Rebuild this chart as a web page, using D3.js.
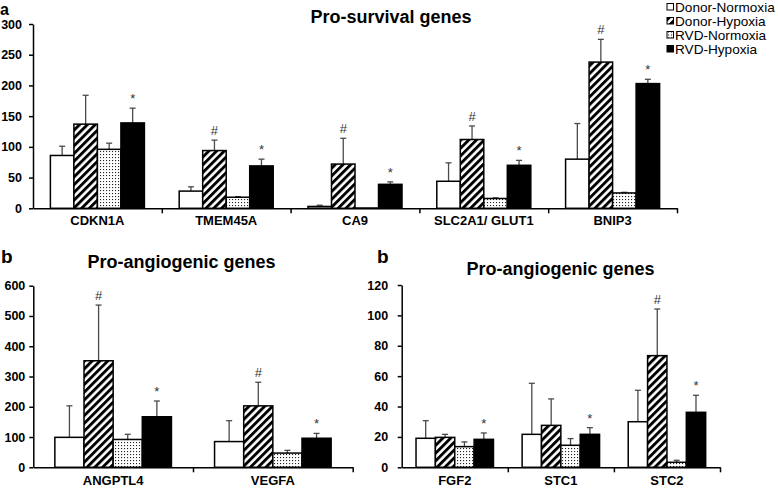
<!DOCTYPE html>
<html>
<head>
<meta charset="utf-8">
<script src="https://cdn.jsdelivr.net/npm/d3@7"></script>
<style>
  body { margin: 0; background: #fff; }
  svg { font-family: "Liberation Sans", Arial, sans-serif; }
</style>
</head>
<body>
<svg id="chart" width="778" height="489"></svg>
<script>
// groups and panel data
const seriesNames = ["Donor-Normoxia", "Donor-Hypoxia", "RVD-Normoxia", "RVD-Hypoxia"];

const survivalGenes = ["CDKN1A", "TMEM45A", "CA9", "SLC2A1/ GLUT1", "BNIP3"];
const survivalMeans = [[86, 137, 96, 139], [28, 94, 18, 69], [3, 72, 0.5, 39], [44, 112, 16, 70], [80, 238, 25, 203]];
const survivalSD = [[15, 47, 10, 24], [7, 17, 1, 11], [2, 42, 0, 4], [30, 22, 1, 8], [58, 37, 1, 7]];
const survivalMarks = [["", "", "", "*"], ["", "#", "", "*"], ["", "#", "", "*"], ["", "#", "", "*"], ["", "#", "", "*"]];

const angioGenesA = ["ANGPTL4", "VEGFA"];
const angioMeansA = [[99, 352, 92, 167], [85, 203, 47, 96]];
const angioSDA = [[104, 184, 17, 52], [69, 78, 9, 16]];
const angioMarksA = [["", "#", "", "*"], ["", "#", "", "*"]];

const angioGenesB = ["FGF2", "STC1", "STC2"];
const angioMeansB = [[19.1, 19.7, 13.6, 18.4], [21.7, 27.6, 14.5, 21.7], [30, 73.5, 3.3, 36.2]];
const angioSDB = [[11.6, 2, 3.1, 4.2], [33.6, 17.4, 4.4, 4.4], [20.7, 30.7, 1.3, 11.2]];
const angioMarksB = [["", "", "", "*"], ["", "", "", "*"], ["", "#", "", "*"]];

const svg = d3.select("#chart");
const defs = svg.append("defs");

// diagonal stripes for Donor-Hypoxia
const stripe = defs.append("pattern")
  .attr("id", "stripes")
  .attr("patternUnits", "userSpaceOnUse")
  .attr("width", 5.5).attr("height", 5.5)
  .attr("patternTransform", "rotate(45)");
stripe.append("rect").attr("width", 5.5).attr("height", 5.5).attr("fill", "#fff");
stripe.append("rect").attr("width", 2.9).attr("height", 5.5).attr("fill", "#000");

// fine dots for RVD-Normoxia
const dots = defs.append("pattern")
  .attr("id", "dots")
  .attr("patternUnits", "userSpaceOnUse")
  .attr("width", 3).attr("height", 3);
dots.append("rect").attr("width", 3).attr("height", 3).attr("fill", "#fff");
dots.append("rect").attr("x", 1).attr("y", 1).attr("width", 1.1).attr("height", 1.1).attr("fill", "#222");

const fills = ["#fff", "url(#stripes)", "url(#dots)", "#000"];

function drawPanel(cfg) {
  const g = svg.append("g");
  const n = cfg.genes.length;

  const x = d3.scaleBand().domain(cfg.genes).range([cfg.x0, cfg.x1]).paddingInner(0.27).paddingOuter(0.135);
  const xs = d3.scaleBand().domain(seriesNames).range([0, x.bandwidth()]);
  const y = d3.scaleLinear().domain([0, cfg.max]).range([cfg.y0, cfg.y1]);

  // y axis
  const yAxis = g.append("g")
    .attr("transform", "translate(" + cfg.x0 + ",0)")
    .call(d3.axisLeft(y).tickValues(d3.range(0, cfg.max + cfg.step / 2, cfg.step))
      .tickSize(4).tickSizeOuter(0).tickPadding(cfg.pad));
  yAxis.selectAll("text").attr("font-size", "12.5px").attr("font-weight", "bold").attr("fill", "#000")
    .attr("font-family", "Liberation Sans, Arial, sans-serif");
  yAxis.selectAll("line, path").attr("stroke", "#000").attr("stroke-width", 1.5);

  // x axis: boundary ticks
  const xb = d3.scaleLinear().domain([0, n]).range([cfg.x0, cfg.x1]);
  const xAxis = g.append("g")
    .attr("transform", "translate(0," + cfg.y0 + ")")
    .call(d3.axisBottom(xb).tickValues(d3.range(1, n + 1)).tickFormat("").tickSize(5).tickSizeOuter(0));
  xAxis.selectAll("line, path").attr("stroke", "#000").attr("stroke-width", 1.5);

  // category labels
  const xl = g.append("g")
    .attr("transform", "translate(0," + cfg.y0 + ")")
    .call(d3.axisBottom(x).tickSize(0).tickPadding(cfg.labPad));
  xl.select(".domain").remove();
  xl.selectAll("text").attr("font-size", "13px").attr("font-weight", "bold").attr("fill", "#000")
    .attr("font-family", "Liberation Sans, Arial, sans-serif");

  const rows = [];
  cfg.genes.forEach(function(gene, i) {
    seriesNames.forEach(function(s, j) {
      rows.push({gene: gene, s: s, j: j, v: cfg.means[i][j], sd: cfg.sd[i][j], mark: cfg.marks[i][j]});
    });
  });

  const bx = function(d) { return x(d.gene) + xs(d.s); };

  // error bars (upper only)
  const eb = g.selectAll(".err").data(rows.filter(d => d.sd > 0)).enter().append("g")
    .attr("stroke", "#4a4a4a").attr("stroke-width", 1.3);
  eb.append("line")
    .attr("x1", d => bx(d) + xs.bandwidth() / 2).attr("x2", d => bx(d) + xs.bandwidth() / 2)
    .attr("y1", d => y(d.v)).attr("y2", d => y(d.v + d.sd));
  eb.append("line")
    .attr("x1", d => bx(d) + xs.bandwidth() / 2 - 3).attr("x2", d => bx(d) + xs.bandwidth() / 2 + 3)
    .attr("y1", d => y(d.v + d.sd)).attr("y2", d => y(d.v + d.sd));

  // bars
  g.selectAll(".bar").data(rows).enter().append("rect")
    .attr("x", bx)
    .attr("y", d => y(d.v))
    .attr("width", xs.bandwidth())
    .attr("height", d => cfg.y0 - y(d.v))
    .attr("fill", d => fills[d.j])
    .attr("stroke", "#000")
    .attr("stroke-width", 1.5);

  // significance marks
  g.selectAll(".mark").data(rows.filter(d => d.mark)).enter().append("text")
    .attr("x", d => bx(d) + xs.bandwidth() / 2)
    .attr("y", d => y(d.v + d.sd) - 5)
    .attr("text-anchor", "middle")
    .attr("font-size", "13px")
    .attr("fill", "#333")
    .text(d => d.mark);

  // title
  g.append("text")
    .attr("x", cfg.tx).attr("y", cfg.ty)
    .attr("text-anchor", "middle")
    .attr("font-size", "18px").attr("font-weight", "bold")
    .text(cfg.title);
}

drawPanel({genes: survivalGenes, means: survivalMeans, sd: survivalSD, marks: survivalMarks,
  max: 300, step: 50, x0: 33, x1: 677, y0: 208.3, y1: 24, pad: 7, labPad: 7,
  title: "Pro-survival genes", tx: 391, ty: 22.7});

drawPanel({genes: angioGenesA, means: angioMeansA, sd: angioSDA, marks: angioMarksA,
  max: 600, step: 100, x0: 33.3, x1: 352.7, y0: 467.3, y1: 285.7, pad: 4, labPad: 8,
  title: "Pro-angiogenic genes", tx: 181.5, ty: 268});

drawPanel({genes: angioGenesB, means: angioMeansB, sd: angioSDB, marks: angioMarksB,
  max: 120, step: 20, x0: 401.7, x1: 720, y0: 467.3, y1: 285, pad: 9.5, labPad: 8,
  title: "Pro-angiogenic genes", tx: 560.5, ty: 275});

// panel letters
const letters = [{t: "a", x: 0, y: 15, s: 16}, {t: "b", x: 1, y: 263, s: 19}, {t: "b", x: 377, y: 263, s: 19}];
svg.selectAll(".letter").data(letters).enter().append("text")
  .attr("x", d => d.x).attr("y", d => d.y)
  .attr("font-size", d => d.s + "px").attr("font-weight", "bold")
  .text(d => d.t);

// legend
const legend = svg.append("g").attr("transform", "translate(667,0)");
const li = legend.selectAll(".li").data(seriesNames).enter().append("g")
  .attr("transform", (d, i) => "translate(0," + (11.5 + i * 14) + ")");
li.append("rect")
  .attr("x", 0).attr("y", -8).attr("width", 6.5).attr("height", 6.5)
  .attr("fill", (d, i) => fills[i])
  .attr("stroke", "#000").attr("stroke-width", 1);
li.append("text")
  .attr("x", 8).attr("y", 0)
  .attr("font-size", "13.6px")
  .text(d => d);
</script>
</body>
</html>
